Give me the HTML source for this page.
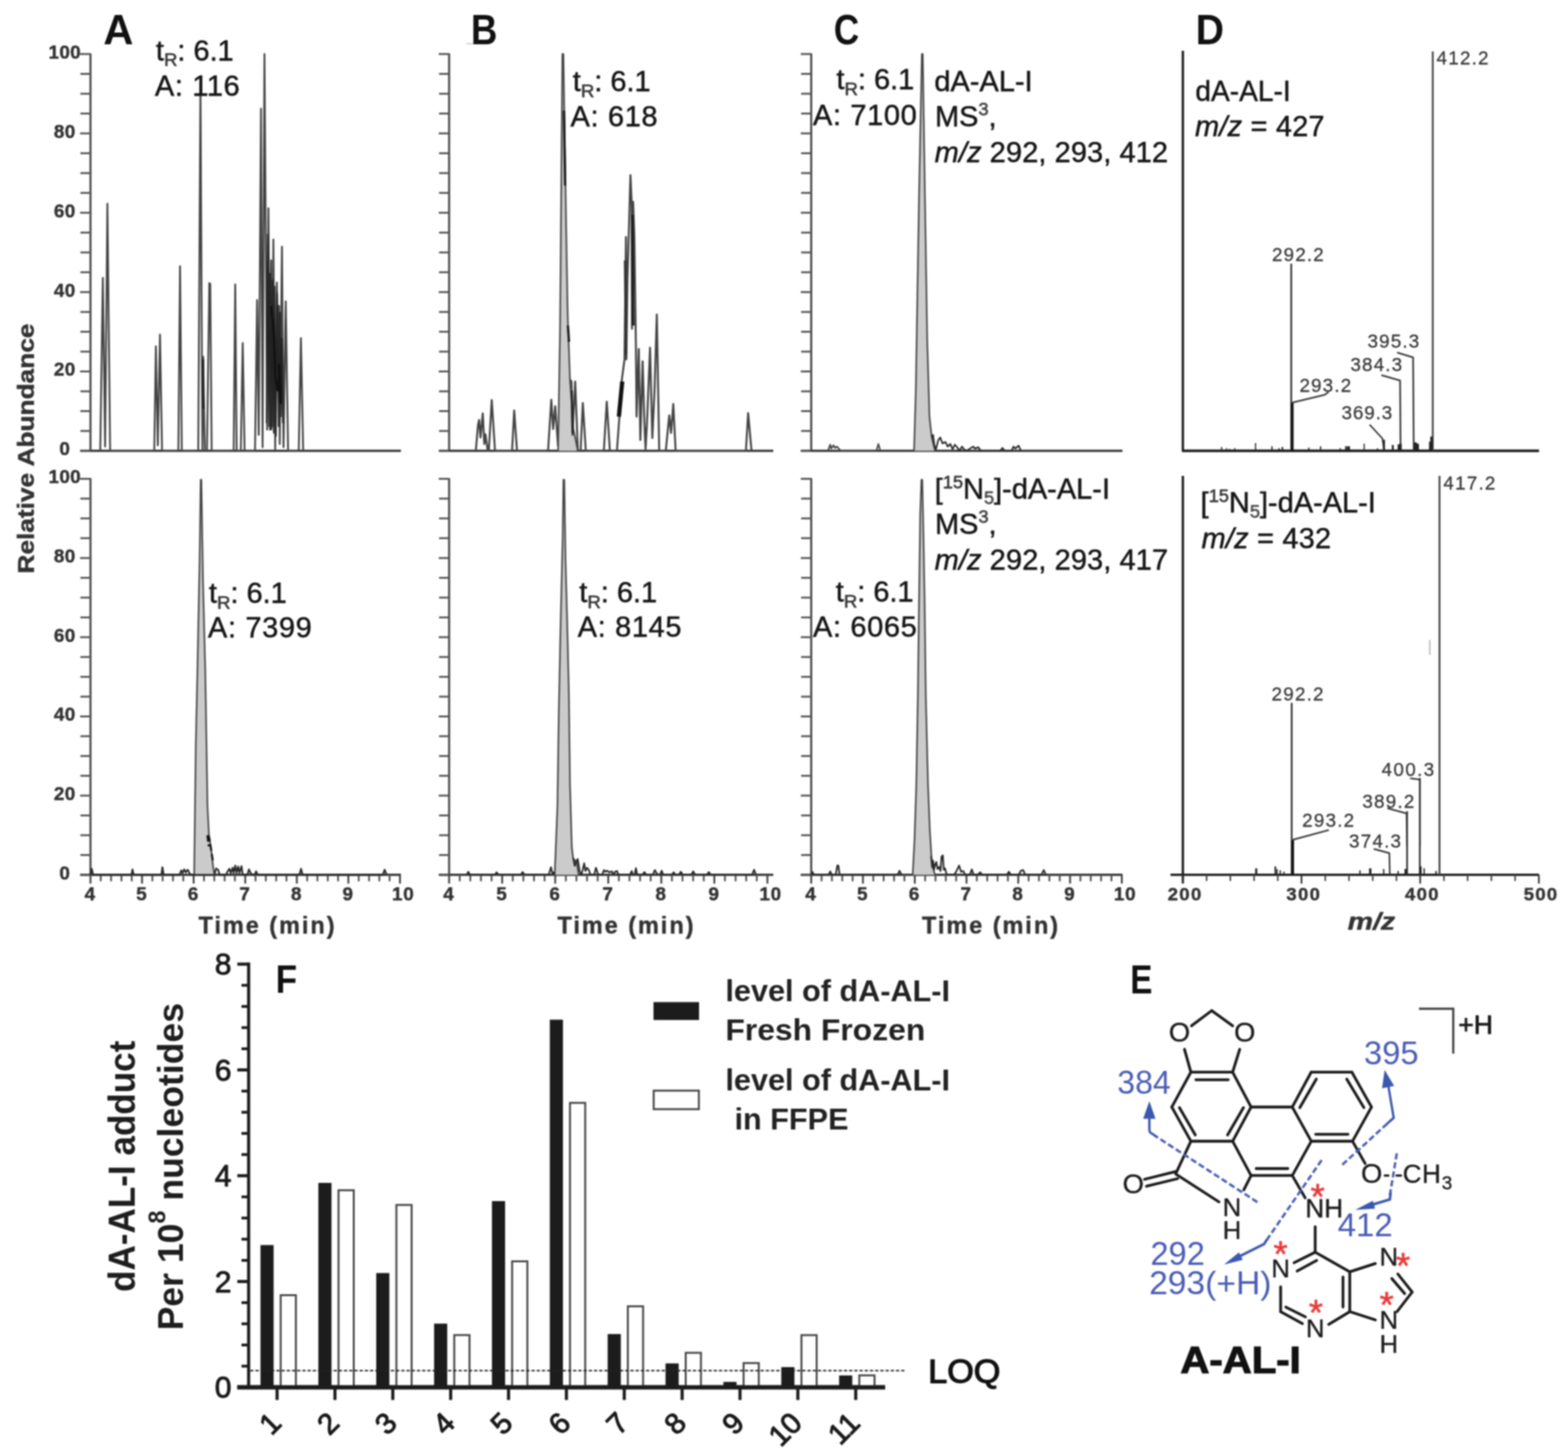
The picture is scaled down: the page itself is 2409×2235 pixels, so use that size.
<!DOCTYPE html>
<html lang="en"><head><meta charset="utf-8"><title>Figure</title>
<style>
html,body{margin:0;padding:0;background:#fff;}
svg{display:block;filter:blur(0.9px);}
text{font-family:"Liberation Sans", sans-serif;}
</style></head>
<body>
<svg width="2409" height="2235" viewBox="0 0 2409 2235">
<rect x="0" y="0" width="2409" height="2235" fill="#ffffff"/>
<line x1="139.0" y1="82.0" x2="139.0" y2="693.5" stroke="#4a4a4a" stroke-width="3.2" />
<line x1="123.0" y1="692.5" x2="616.0" y2="692.5" stroke="#383838" stroke-width="3.5" />
<line x1="123.0" y1="692.5" x2="139.0" y2="692.5" stroke="#555" stroke-width="2.9" />
<line x1="123.5" y1="662.0" x2="139.0" y2="662.0" stroke="#555" stroke-width="2.9" />
<line x1="123.5" y1="631.5" x2="139.0" y2="631.5" stroke="#555" stroke-width="2.9" />
<line x1="123.5" y1="601.1" x2="139.0" y2="601.1" stroke="#555" stroke-width="2.9" />
<line x1="123.0" y1="570.6" x2="139.0" y2="570.6" stroke="#555" stroke-width="2.9" />
<line x1="123.5" y1="540.1" x2="139.0" y2="540.1" stroke="#555" stroke-width="2.9" />
<line x1="123.5" y1="509.6" x2="139.0" y2="509.6" stroke="#555" stroke-width="2.9" />
<line x1="123.5" y1="479.2" x2="139.0" y2="479.2" stroke="#555" stroke-width="2.9" />
<line x1="123.0" y1="448.7" x2="139.0" y2="448.7" stroke="#555" stroke-width="2.9" />
<line x1="123.5" y1="418.2" x2="139.0" y2="418.2" stroke="#555" stroke-width="2.9" />
<line x1="123.5" y1="387.8" x2="139.0" y2="387.8" stroke="#555" stroke-width="2.9" />
<line x1="123.5" y1="357.3" x2="139.0" y2="357.3" stroke="#555" stroke-width="2.9" />
<line x1="123.0" y1="326.8" x2="139.0" y2="326.8" stroke="#555" stroke-width="2.9" />
<line x1="123.5" y1="296.3" x2="139.0" y2="296.3" stroke="#555" stroke-width="2.9" />
<line x1="123.5" y1="265.9" x2="139.0" y2="265.9" stroke="#555" stroke-width="2.9" />
<line x1="123.5" y1="235.4" x2="139.0" y2="235.4" stroke="#555" stroke-width="2.9" />
<line x1="123.0" y1="204.9" x2="139.0" y2="204.9" stroke="#555" stroke-width="2.9" />
<line x1="123.5" y1="174.4" x2="139.0" y2="174.4" stroke="#555" stroke-width="2.9" />
<line x1="123.5" y1="144.0" x2="139.0" y2="144.0" stroke="#555" stroke-width="2.9" />
<line x1="123.5" y1="113.5" x2="139.0" y2="113.5" stroke="#555" stroke-width="2.9" />
<line x1="123.0" y1="83.0" x2="139.0" y2="83.0" stroke="#555" stroke-width="2.9" />
<text x="99.5" y="699.3" font-size="29" font-weight="bold" text-anchor="middle" fill="#333" letter-spacing="0.6" stroke="#333" stroke-width="0.6">0</text>
<text x="99.5" y="577.4" font-size="29" font-weight="bold" text-anchor="middle" fill="#333" letter-spacing="0.6" stroke="#333" stroke-width="0.6">20</text>
<text x="99.5" y="455.5" font-size="29" font-weight="bold" text-anchor="middle" fill="#333" letter-spacing="0.6" stroke="#333" stroke-width="0.6">40</text>
<text x="99.5" y="333.6" font-size="29" font-weight="bold" text-anchor="middle" fill="#333" letter-spacing="0.6" stroke="#333" stroke-width="0.6">60</text>
<text x="99.5" y="211.7" font-size="29" font-weight="bold" text-anchor="middle" fill="#333" letter-spacing="0.6" stroke="#333" stroke-width="0.6">80</text>
<text x="99.5" y="89.8" font-size="29" font-weight="bold" text-anchor="middle" fill="#333" letter-spacing="0.6" stroke="#333" stroke-width="0.6">100</text>
<line x1="139.0" y1="734.5" x2="139.0" y2="1344.8" stroke="#4a4a4a" stroke-width="3.2" />
<line x1="123.0" y1="1343.8" x2="616.0" y2="1343.8" stroke="#383838" stroke-width="3.6" />
<line x1="123.0" y1="1343.8" x2="139.0" y2="1343.8" stroke="#555" stroke-width="2.9" />
<line x1="123.5" y1="1313.4" x2="139.0" y2="1313.4" stroke="#555" stroke-width="2.9" />
<line x1="123.5" y1="1283.0" x2="139.0" y2="1283.0" stroke="#555" stroke-width="2.9" />
<line x1="123.5" y1="1252.6" x2="139.0" y2="1252.6" stroke="#555" stroke-width="2.9" />
<line x1="123.0" y1="1222.1" x2="139.0" y2="1222.1" stroke="#555" stroke-width="2.9" />
<line x1="123.5" y1="1191.7" x2="139.0" y2="1191.7" stroke="#555" stroke-width="2.9" />
<line x1="123.5" y1="1161.3" x2="139.0" y2="1161.3" stroke="#555" stroke-width="2.9" />
<line x1="123.5" y1="1130.9" x2="139.0" y2="1130.9" stroke="#555" stroke-width="2.9" />
<line x1="123.0" y1="1100.5" x2="139.0" y2="1100.5" stroke="#555" stroke-width="2.9" />
<line x1="123.5" y1="1070.1" x2="139.0" y2="1070.1" stroke="#555" stroke-width="2.9" />
<line x1="123.5" y1="1039.7" x2="139.0" y2="1039.7" stroke="#555" stroke-width="2.9" />
<line x1="123.5" y1="1009.2" x2="139.0" y2="1009.2" stroke="#555" stroke-width="2.9" />
<line x1="123.0" y1="978.8" x2="139.0" y2="978.8" stroke="#555" stroke-width="2.9" />
<line x1="123.5" y1="948.4" x2="139.0" y2="948.4" stroke="#555" stroke-width="2.9" />
<line x1="123.5" y1="918.0" x2="139.0" y2="918.0" stroke="#555" stroke-width="2.9" />
<line x1="123.5" y1="887.6" x2="139.0" y2="887.6" stroke="#555" stroke-width="2.9" />
<line x1="123.0" y1="857.2" x2="139.0" y2="857.2" stroke="#555" stroke-width="2.9" />
<line x1="123.5" y1="826.7" x2="139.0" y2="826.7" stroke="#555" stroke-width="2.9" />
<line x1="123.5" y1="796.3" x2="139.0" y2="796.3" stroke="#555" stroke-width="2.9" />
<line x1="123.5" y1="765.9" x2="139.0" y2="765.9" stroke="#555" stroke-width="2.9" />
<line x1="123.0" y1="735.5" x2="139.0" y2="735.5" stroke="#555" stroke-width="2.9" />
<text x="99.5" y="1350.6" font-size="29" font-weight="bold" text-anchor="middle" fill="#333" letter-spacing="0.6" stroke="#333" stroke-width="0.6">0</text>
<text x="99.5" y="1228.9" font-size="29" font-weight="bold" text-anchor="middle" fill="#333" letter-spacing="0.6" stroke="#333" stroke-width="0.6">20</text>
<text x="99.5" y="1107.3" font-size="29" font-weight="bold" text-anchor="middle" fill="#333" letter-spacing="0.6" stroke="#333" stroke-width="0.6">40</text>
<text x="99.5" y="985.6" font-size="29" font-weight="bold" text-anchor="middle" fill="#333" letter-spacing="0.6" stroke="#333" stroke-width="0.6">60</text>
<text x="99.5" y="864.0" font-size="29" font-weight="bold" text-anchor="middle" fill="#333" letter-spacing="0.6" stroke="#333" stroke-width="0.6">80</text>
<text x="99.5" y="742.3" font-size="29" font-weight="bold" text-anchor="middle" fill="#333" letter-spacing="0.6" stroke="#333" stroke-width="0.6">100</text>
<line x1="139.0" y1="1343.8" x2="139.0" y2="1357.3" stroke="#444" stroke-width="2.9" />
<line x1="154.8" y1="1343.8" x2="154.8" y2="1353.8" stroke="#555" stroke-width="2.8" />
<line x1="170.7" y1="1343.8" x2="170.7" y2="1353.8" stroke="#555" stroke-width="2.8" />
<line x1="186.6" y1="1343.8" x2="186.6" y2="1353.8" stroke="#555" stroke-width="2.8" />
<line x1="202.4" y1="1343.8" x2="202.4" y2="1353.8" stroke="#555" stroke-width="2.8" />
<line x1="218.2" y1="1343.8" x2="218.2" y2="1357.3" stroke="#444" stroke-width="2.9" />
<line x1="234.1" y1="1343.8" x2="234.1" y2="1353.8" stroke="#555" stroke-width="2.8" />
<line x1="249.9" y1="1343.8" x2="249.9" y2="1353.8" stroke="#555" stroke-width="2.8" />
<line x1="265.8" y1="1343.8" x2="265.8" y2="1353.8" stroke="#555" stroke-width="2.8" />
<line x1="281.6" y1="1343.8" x2="281.6" y2="1353.8" stroke="#555" stroke-width="2.8" />
<line x1="297.5" y1="1343.8" x2="297.5" y2="1357.3" stroke="#444" stroke-width="2.9" />
<line x1="313.4" y1="1343.8" x2="313.4" y2="1353.8" stroke="#555" stroke-width="2.8" />
<line x1="329.2" y1="1343.8" x2="329.2" y2="1353.8" stroke="#555" stroke-width="2.8" />
<line x1="345.1" y1="1343.8" x2="345.1" y2="1353.8" stroke="#555" stroke-width="2.8" />
<line x1="360.9" y1="1343.8" x2="360.9" y2="1353.8" stroke="#555" stroke-width="2.8" />
<line x1="376.8" y1="1343.8" x2="376.8" y2="1357.3" stroke="#444" stroke-width="2.9" />
<line x1="392.6" y1="1343.8" x2="392.6" y2="1353.8" stroke="#555" stroke-width="2.8" />
<line x1="408.4" y1="1343.8" x2="408.4" y2="1353.8" stroke="#555" stroke-width="2.8" />
<line x1="424.3" y1="1343.8" x2="424.3" y2="1353.8" stroke="#555" stroke-width="2.8" />
<line x1="440.1" y1="1343.8" x2="440.1" y2="1353.8" stroke="#555" stroke-width="2.8" />
<line x1="456.0" y1="1343.8" x2="456.0" y2="1357.3" stroke="#444" stroke-width="2.9" />
<line x1="471.9" y1="1343.8" x2="471.9" y2="1353.8" stroke="#555" stroke-width="2.8" />
<line x1="487.7" y1="1343.8" x2="487.7" y2="1353.8" stroke="#555" stroke-width="2.8" />
<line x1="503.6" y1="1343.8" x2="503.6" y2="1353.8" stroke="#555" stroke-width="2.8" />
<line x1="519.4" y1="1343.8" x2="519.4" y2="1353.8" stroke="#555" stroke-width="2.8" />
<line x1="535.2" y1="1343.8" x2="535.2" y2="1357.3" stroke="#444" stroke-width="2.9" />
<line x1="551.1" y1="1343.8" x2="551.1" y2="1353.8" stroke="#555" stroke-width="2.8" />
<line x1="567.0" y1="1343.8" x2="567.0" y2="1353.8" stroke="#555" stroke-width="2.8" />
<line x1="582.8" y1="1343.8" x2="582.8" y2="1353.8" stroke="#555" stroke-width="2.8" />
<line x1="598.6" y1="1343.8" x2="598.6" y2="1353.8" stroke="#555" stroke-width="2.8" />
<line x1="614.5" y1="1343.8" x2="614.5" y2="1357.3" stroke="#444" stroke-width="2.9" />
<text x="138.5" y="1382.8" font-size="29" font-weight="bold" text-anchor="middle" fill="#333" letter-spacing="1" stroke="#333" stroke-width="0.6">4</text>
<text x="217.8" y="1382.8" font-size="29" font-weight="bold" text-anchor="middle" fill="#333" letter-spacing="1" stroke="#333" stroke-width="0.6">5</text>
<text x="297.0" y="1382.8" font-size="29" font-weight="bold" text-anchor="middle" fill="#333" letter-spacing="1" stroke="#333" stroke-width="0.6">6</text>
<text x="376.2" y="1382.8" font-size="29" font-weight="bold" text-anchor="middle" fill="#333" letter-spacing="1" stroke="#333" stroke-width="0.6">7</text>
<text x="455.5" y="1382.8" font-size="29" font-weight="bold" text-anchor="middle" fill="#333" letter-spacing="1" stroke="#333" stroke-width="0.6">8</text>
<text x="534.8" y="1382.8" font-size="29" font-weight="bold" text-anchor="middle" fill="#333" letter-spacing="1" stroke="#333" stroke-width="0.6">9</text>
<text x="619.5" y="1382.8" font-size="29" font-weight="bold" text-anchor="middle" fill="#333" letter-spacing="1" stroke="#333" stroke-width="0.6">10</text>
<line x1="690.0" y1="82.0" x2="690.0" y2="693.5" stroke="#4a4a4a" stroke-width="3.2" />
<line x1="674.0" y1="692.5" x2="1188.0" y2="692.5" stroke="#383838" stroke-width="3.5" />
<line x1="674.0" y1="692.5" x2="690.0" y2="692.5" stroke="#555" stroke-width="2.9" />
<line x1="674.5" y1="662.0" x2="690.0" y2="662.0" stroke="#555" stroke-width="2.9" />
<line x1="674.5" y1="631.5" x2="690.0" y2="631.5" stroke="#555" stroke-width="2.9" />
<line x1="674.5" y1="601.1" x2="690.0" y2="601.1" stroke="#555" stroke-width="2.9" />
<line x1="674.0" y1="570.6" x2="690.0" y2="570.6" stroke="#555" stroke-width="2.9" />
<line x1="674.5" y1="540.1" x2="690.0" y2="540.1" stroke="#555" stroke-width="2.9" />
<line x1="674.5" y1="509.6" x2="690.0" y2="509.6" stroke="#555" stroke-width="2.9" />
<line x1="674.5" y1="479.2" x2="690.0" y2="479.2" stroke="#555" stroke-width="2.9" />
<line x1="674.0" y1="448.7" x2="690.0" y2="448.7" stroke="#555" stroke-width="2.9" />
<line x1="674.5" y1="418.2" x2="690.0" y2="418.2" stroke="#555" stroke-width="2.9" />
<line x1="674.5" y1="387.8" x2="690.0" y2="387.8" stroke="#555" stroke-width="2.9" />
<line x1="674.5" y1="357.3" x2="690.0" y2="357.3" stroke="#555" stroke-width="2.9" />
<line x1="674.0" y1="326.8" x2="690.0" y2="326.8" stroke="#555" stroke-width="2.9" />
<line x1="674.5" y1="296.3" x2="690.0" y2="296.3" stroke="#555" stroke-width="2.9" />
<line x1="674.5" y1="265.9" x2="690.0" y2="265.9" stroke="#555" stroke-width="2.9" />
<line x1="674.5" y1="235.4" x2="690.0" y2="235.4" stroke="#555" stroke-width="2.9" />
<line x1="674.0" y1="204.9" x2="690.0" y2="204.9" stroke="#555" stroke-width="2.9" />
<line x1="674.5" y1="174.4" x2="690.0" y2="174.4" stroke="#555" stroke-width="2.9" />
<line x1="674.5" y1="144.0" x2="690.0" y2="144.0" stroke="#555" stroke-width="2.9" />
<line x1="674.5" y1="113.5" x2="690.0" y2="113.5" stroke="#555" stroke-width="2.9" />
<line x1="674.0" y1="83.0" x2="690.0" y2="83.0" stroke="#555" stroke-width="2.9" />
<line x1="690.0" y1="734.5" x2="690.0" y2="1344.8" stroke="#4a4a4a" stroke-width="3.2" />
<line x1="674.0" y1="1343.8" x2="1188.0" y2="1343.8" stroke="#383838" stroke-width="3.6" />
<line x1="674.0" y1="1343.8" x2="690.0" y2="1343.8" stroke="#555" stroke-width="2.9" />
<line x1="674.5" y1="1313.4" x2="690.0" y2="1313.4" stroke="#555" stroke-width="2.9" />
<line x1="674.5" y1="1283.0" x2="690.0" y2="1283.0" stroke="#555" stroke-width="2.9" />
<line x1="674.5" y1="1252.6" x2="690.0" y2="1252.6" stroke="#555" stroke-width="2.9" />
<line x1="674.0" y1="1222.1" x2="690.0" y2="1222.1" stroke="#555" stroke-width="2.9" />
<line x1="674.5" y1="1191.7" x2="690.0" y2="1191.7" stroke="#555" stroke-width="2.9" />
<line x1="674.5" y1="1161.3" x2="690.0" y2="1161.3" stroke="#555" stroke-width="2.9" />
<line x1="674.5" y1="1130.9" x2="690.0" y2="1130.9" stroke="#555" stroke-width="2.9" />
<line x1="674.0" y1="1100.5" x2="690.0" y2="1100.5" stroke="#555" stroke-width="2.9" />
<line x1="674.5" y1="1070.1" x2="690.0" y2="1070.1" stroke="#555" stroke-width="2.9" />
<line x1="674.5" y1="1039.7" x2="690.0" y2="1039.7" stroke="#555" stroke-width="2.9" />
<line x1="674.5" y1="1009.2" x2="690.0" y2="1009.2" stroke="#555" stroke-width="2.9" />
<line x1="674.0" y1="978.8" x2="690.0" y2="978.8" stroke="#555" stroke-width="2.9" />
<line x1="674.5" y1="948.4" x2="690.0" y2="948.4" stroke="#555" stroke-width="2.9" />
<line x1="674.5" y1="918.0" x2="690.0" y2="918.0" stroke="#555" stroke-width="2.9" />
<line x1="674.5" y1="887.6" x2="690.0" y2="887.6" stroke="#555" stroke-width="2.9" />
<line x1="674.0" y1="857.2" x2="690.0" y2="857.2" stroke="#555" stroke-width="2.9" />
<line x1="674.5" y1="826.7" x2="690.0" y2="826.7" stroke="#555" stroke-width="2.9" />
<line x1="674.5" y1="796.3" x2="690.0" y2="796.3" stroke="#555" stroke-width="2.9" />
<line x1="674.5" y1="765.9" x2="690.0" y2="765.9" stroke="#555" stroke-width="2.9" />
<line x1="674.0" y1="735.5" x2="690.0" y2="735.5" stroke="#555" stroke-width="2.9" />
<line x1="690.0" y1="1343.8" x2="690.0" y2="1357.3" stroke="#444" stroke-width="2.9" />
<line x1="706.3" y1="1343.8" x2="706.3" y2="1353.8" stroke="#555" stroke-width="2.8" />
<line x1="722.6" y1="1343.8" x2="722.6" y2="1353.8" stroke="#555" stroke-width="2.8" />
<line x1="738.9" y1="1343.8" x2="738.9" y2="1353.8" stroke="#555" stroke-width="2.8" />
<line x1="755.2" y1="1343.8" x2="755.2" y2="1353.8" stroke="#555" stroke-width="2.8" />
<line x1="771.5" y1="1343.8" x2="771.5" y2="1357.3" stroke="#444" stroke-width="2.9" />
<line x1="787.8" y1="1343.8" x2="787.8" y2="1353.8" stroke="#555" stroke-width="2.8" />
<line x1="804.1" y1="1343.8" x2="804.1" y2="1353.8" stroke="#555" stroke-width="2.8" />
<line x1="820.4" y1="1343.8" x2="820.4" y2="1353.8" stroke="#555" stroke-width="2.8" />
<line x1="836.7" y1="1343.8" x2="836.7" y2="1353.8" stroke="#555" stroke-width="2.8" />
<line x1="853.0" y1="1343.8" x2="853.0" y2="1357.3" stroke="#444" stroke-width="2.9" />
<line x1="869.3" y1="1343.8" x2="869.3" y2="1353.8" stroke="#555" stroke-width="2.8" />
<line x1="885.6" y1="1343.8" x2="885.6" y2="1353.8" stroke="#555" stroke-width="2.8" />
<line x1="901.9" y1="1343.8" x2="901.9" y2="1353.8" stroke="#555" stroke-width="2.8" />
<line x1="918.2" y1="1343.8" x2="918.2" y2="1353.8" stroke="#555" stroke-width="2.8" />
<line x1="934.5" y1="1343.8" x2="934.5" y2="1357.3" stroke="#444" stroke-width="2.9" />
<line x1="950.8" y1="1343.8" x2="950.8" y2="1353.8" stroke="#555" stroke-width="2.8" />
<line x1="967.1" y1="1343.8" x2="967.1" y2="1353.8" stroke="#555" stroke-width="2.8" />
<line x1="983.4" y1="1343.8" x2="983.4" y2="1353.8" stroke="#555" stroke-width="2.8" />
<line x1="999.7" y1="1343.8" x2="999.7" y2="1353.8" stroke="#555" stroke-width="2.8" />
<line x1="1016.0" y1="1343.8" x2="1016.0" y2="1357.3" stroke="#444" stroke-width="2.9" />
<line x1="1032.3" y1="1343.8" x2="1032.3" y2="1353.8" stroke="#555" stroke-width="2.8" />
<line x1="1048.6" y1="1343.8" x2="1048.6" y2="1353.8" stroke="#555" stroke-width="2.8" />
<line x1="1064.9" y1="1343.8" x2="1064.9" y2="1353.8" stroke="#555" stroke-width="2.8" />
<line x1="1081.2" y1="1343.8" x2="1081.2" y2="1353.8" stroke="#555" stroke-width="2.8" />
<line x1="1097.5" y1="1343.8" x2="1097.5" y2="1357.3" stroke="#444" stroke-width="2.9" />
<line x1="1113.8" y1="1343.8" x2="1113.8" y2="1353.8" stroke="#555" stroke-width="2.8" />
<line x1="1130.1" y1="1343.8" x2="1130.1" y2="1353.8" stroke="#555" stroke-width="2.8" />
<line x1="1146.4" y1="1343.8" x2="1146.4" y2="1353.8" stroke="#555" stroke-width="2.8" />
<line x1="1162.7" y1="1343.8" x2="1162.7" y2="1353.8" stroke="#555" stroke-width="2.8" />
<line x1="1179.0" y1="1343.8" x2="1179.0" y2="1357.3" stroke="#444" stroke-width="2.9" />
<text x="689.5" y="1382.8" font-size="29" font-weight="bold" text-anchor="middle" fill="#333" letter-spacing="1" stroke="#333" stroke-width="0.6">4</text>
<text x="771.0" y="1382.8" font-size="29" font-weight="bold" text-anchor="middle" fill="#333" letter-spacing="1" stroke="#333" stroke-width="0.6">5</text>
<text x="852.5" y="1382.8" font-size="29" font-weight="bold" text-anchor="middle" fill="#333" letter-spacing="1" stroke="#333" stroke-width="0.6">6</text>
<text x="934.0" y="1382.8" font-size="29" font-weight="bold" text-anchor="middle" fill="#333" letter-spacing="1" stroke="#333" stroke-width="0.6">7</text>
<text x="1015.5" y="1382.8" font-size="29" font-weight="bold" text-anchor="middle" fill="#333" letter-spacing="1" stroke="#333" stroke-width="0.6">8</text>
<text x="1097.0" y="1382.8" font-size="29" font-weight="bold" text-anchor="middle" fill="#333" letter-spacing="1" stroke="#333" stroke-width="0.6">9</text>
<text x="1184.0" y="1382.8" font-size="29" font-weight="bold" text-anchor="middle" fill="#333" letter-spacing="1" stroke="#333" stroke-width="0.6">10</text>
<line x1="1246.3" y1="82.0" x2="1246.3" y2="693.5" stroke="#4a4a4a" stroke-width="3.2" />
<line x1="1230.3" y1="692.5" x2="1724.5" y2="692.5" stroke="#383838" stroke-width="3.5" />
<line x1="1230.3" y1="692.5" x2="1246.3" y2="692.5" stroke="#555" stroke-width="2.9" />
<line x1="1230.8" y1="662.0" x2="1246.3" y2="662.0" stroke="#555" stroke-width="2.9" />
<line x1="1230.8" y1="631.5" x2="1246.3" y2="631.5" stroke="#555" stroke-width="2.9" />
<line x1="1230.8" y1="601.1" x2="1246.3" y2="601.1" stroke="#555" stroke-width="2.9" />
<line x1="1230.3" y1="570.6" x2="1246.3" y2="570.6" stroke="#555" stroke-width="2.9" />
<line x1="1230.8" y1="540.1" x2="1246.3" y2="540.1" stroke="#555" stroke-width="2.9" />
<line x1="1230.8" y1="509.6" x2="1246.3" y2="509.6" stroke="#555" stroke-width="2.9" />
<line x1="1230.8" y1="479.2" x2="1246.3" y2="479.2" stroke="#555" stroke-width="2.9" />
<line x1="1230.3" y1="448.7" x2="1246.3" y2="448.7" stroke="#555" stroke-width="2.9" />
<line x1="1230.8" y1="418.2" x2="1246.3" y2="418.2" stroke="#555" stroke-width="2.9" />
<line x1="1230.8" y1="387.8" x2="1246.3" y2="387.8" stroke="#555" stroke-width="2.9" />
<line x1="1230.8" y1="357.3" x2="1246.3" y2="357.3" stroke="#555" stroke-width="2.9" />
<line x1="1230.3" y1="326.8" x2="1246.3" y2="326.8" stroke="#555" stroke-width="2.9" />
<line x1="1230.8" y1="296.3" x2="1246.3" y2="296.3" stroke="#555" stroke-width="2.9" />
<line x1="1230.8" y1="265.9" x2="1246.3" y2="265.9" stroke="#555" stroke-width="2.9" />
<line x1="1230.8" y1="235.4" x2="1246.3" y2="235.4" stroke="#555" stroke-width="2.9" />
<line x1="1230.3" y1="204.9" x2="1246.3" y2="204.9" stroke="#555" stroke-width="2.9" />
<line x1="1230.8" y1="174.4" x2="1246.3" y2="174.4" stroke="#555" stroke-width="2.9" />
<line x1="1230.8" y1="144.0" x2="1246.3" y2="144.0" stroke="#555" stroke-width="2.9" />
<line x1="1230.8" y1="113.5" x2="1246.3" y2="113.5" stroke="#555" stroke-width="2.9" />
<line x1="1230.3" y1="83.0" x2="1246.3" y2="83.0" stroke="#555" stroke-width="2.9" />
<line x1="1246.3" y1="734.5" x2="1246.3" y2="1344.8" stroke="#4a4a4a" stroke-width="3.2" />
<line x1="1230.3" y1="1343.8" x2="1724.5" y2="1343.8" stroke="#383838" stroke-width="3.6" />
<line x1="1230.3" y1="1343.8" x2="1246.3" y2="1343.8" stroke="#555" stroke-width="2.9" />
<line x1="1230.8" y1="1313.4" x2="1246.3" y2="1313.4" stroke="#555" stroke-width="2.9" />
<line x1="1230.8" y1="1283.0" x2="1246.3" y2="1283.0" stroke="#555" stroke-width="2.9" />
<line x1="1230.8" y1="1252.6" x2="1246.3" y2="1252.6" stroke="#555" stroke-width="2.9" />
<line x1="1230.3" y1="1222.1" x2="1246.3" y2="1222.1" stroke="#555" stroke-width="2.9" />
<line x1="1230.8" y1="1191.7" x2="1246.3" y2="1191.7" stroke="#555" stroke-width="2.9" />
<line x1="1230.8" y1="1161.3" x2="1246.3" y2="1161.3" stroke="#555" stroke-width="2.9" />
<line x1="1230.8" y1="1130.9" x2="1246.3" y2="1130.9" stroke="#555" stroke-width="2.9" />
<line x1="1230.3" y1="1100.5" x2="1246.3" y2="1100.5" stroke="#555" stroke-width="2.9" />
<line x1="1230.8" y1="1070.1" x2="1246.3" y2="1070.1" stroke="#555" stroke-width="2.9" />
<line x1="1230.8" y1="1039.7" x2="1246.3" y2="1039.7" stroke="#555" stroke-width="2.9" />
<line x1="1230.8" y1="1009.2" x2="1246.3" y2="1009.2" stroke="#555" stroke-width="2.9" />
<line x1="1230.3" y1="978.8" x2="1246.3" y2="978.8" stroke="#555" stroke-width="2.9" />
<line x1="1230.8" y1="948.4" x2="1246.3" y2="948.4" stroke="#555" stroke-width="2.9" />
<line x1="1230.8" y1="918.0" x2="1246.3" y2="918.0" stroke="#555" stroke-width="2.9" />
<line x1="1230.8" y1="887.6" x2="1246.3" y2="887.6" stroke="#555" stroke-width="2.9" />
<line x1="1230.3" y1="857.2" x2="1246.3" y2="857.2" stroke="#555" stroke-width="2.9" />
<line x1="1230.8" y1="826.7" x2="1246.3" y2="826.7" stroke="#555" stroke-width="2.9" />
<line x1="1230.8" y1="796.3" x2="1246.3" y2="796.3" stroke="#555" stroke-width="2.9" />
<line x1="1230.8" y1="765.9" x2="1246.3" y2="765.9" stroke="#555" stroke-width="2.9" />
<line x1="1230.3" y1="735.5" x2="1246.3" y2="735.5" stroke="#555" stroke-width="2.9" />
<line x1="1246.3" y1="1343.8" x2="1246.3" y2="1357.3" stroke="#444" stroke-width="2.9" />
<line x1="1262.2" y1="1343.8" x2="1262.2" y2="1353.8" stroke="#555" stroke-width="2.8" />
<line x1="1278.1" y1="1343.8" x2="1278.1" y2="1353.8" stroke="#555" stroke-width="2.8" />
<line x1="1294.0" y1="1343.8" x2="1294.0" y2="1353.8" stroke="#555" stroke-width="2.8" />
<line x1="1309.9" y1="1343.8" x2="1309.9" y2="1353.8" stroke="#555" stroke-width="2.8" />
<line x1="1325.8" y1="1343.8" x2="1325.8" y2="1357.3" stroke="#444" stroke-width="2.9" />
<line x1="1341.7" y1="1343.8" x2="1341.7" y2="1353.8" stroke="#555" stroke-width="2.8" />
<line x1="1357.6" y1="1343.8" x2="1357.6" y2="1353.8" stroke="#555" stroke-width="2.8" />
<line x1="1373.6" y1="1343.8" x2="1373.6" y2="1353.8" stroke="#555" stroke-width="2.8" />
<line x1="1389.5" y1="1343.8" x2="1389.5" y2="1353.8" stroke="#555" stroke-width="2.8" />
<line x1="1405.4" y1="1343.8" x2="1405.4" y2="1357.3" stroke="#444" stroke-width="2.9" />
<line x1="1421.3" y1="1343.8" x2="1421.3" y2="1353.8" stroke="#555" stroke-width="2.8" />
<line x1="1437.2" y1="1343.8" x2="1437.2" y2="1353.8" stroke="#555" stroke-width="2.8" />
<line x1="1453.1" y1="1343.8" x2="1453.1" y2="1353.8" stroke="#555" stroke-width="2.8" />
<line x1="1469.0" y1="1343.8" x2="1469.0" y2="1353.8" stroke="#555" stroke-width="2.8" />
<line x1="1484.9" y1="1343.8" x2="1484.9" y2="1357.3" stroke="#444" stroke-width="2.9" />
<line x1="1500.8" y1="1343.8" x2="1500.8" y2="1353.8" stroke="#555" stroke-width="2.8" />
<line x1="1516.7" y1="1343.8" x2="1516.7" y2="1353.8" stroke="#555" stroke-width="2.8" />
<line x1="1532.6" y1="1343.8" x2="1532.6" y2="1353.8" stroke="#555" stroke-width="2.8" />
<line x1="1548.5" y1="1343.8" x2="1548.5" y2="1353.8" stroke="#555" stroke-width="2.8" />
<line x1="1564.4" y1="1343.8" x2="1564.4" y2="1357.3" stroke="#444" stroke-width="2.9" />
<line x1="1580.3" y1="1343.8" x2="1580.3" y2="1353.8" stroke="#555" stroke-width="2.8" />
<line x1="1596.2" y1="1343.8" x2="1596.2" y2="1353.8" stroke="#555" stroke-width="2.8" />
<line x1="1612.2" y1="1343.8" x2="1612.2" y2="1353.8" stroke="#555" stroke-width="2.8" />
<line x1="1628.1" y1="1343.8" x2="1628.1" y2="1353.8" stroke="#555" stroke-width="2.8" />
<line x1="1644.0" y1="1343.8" x2="1644.0" y2="1357.3" stroke="#444" stroke-width="2.9" />
<line x1="1659.9" y1="1343.8" x2="1659.9" y2="1353.8" stroke="#555" stroke-width="2.8" />
<line x1="1675.8" y1="1343.8" x2="1675.8" y2="1353.8" stroke="#555" stroke-width="2.8" />
<line x1="1691.7" y1="1343.8" x2="1691.7" y2="1353.8" stroke="#555" stroke-width="2.8" />
<line x1="1707.6" y1="1343.8" x2="1707.6" y2="1353.8" stroke="#555" stroke-width="2.8" />
<line x1="1723.5" y1="1343.8" x2="1723.5" y2="1357.3" stroke="#444" stroke-width="2.9" />
<text x="1245.8" y="1382.8" font-size="29" font-weight="bold" text-anchor="middle" fill="#333" letter-spacing="1" stroke="#333" stroke-width="0.6">4</text>
<text x="1325.3" y="1382.8" font-size="29" font-weight="bold" text-anchor="middle" fill="#333" letter-spacing="1" stroke="#333" stroke-width="0.6">5</text>
<text x="1404.9" y="1382.8" font-size="29" font-weight="bold" text-anchor="middle" fill="#333" letter-spacing="1" stroke="#333" stroke-width="0.6">6</text>
<text x="1484.4" y="1382.8" font-size="29" font-weight="bold" text-anchor="middle" fill="#333" letter-spacing="1" stroke="#333" stroke-width="0.6">7</text>
<text x="1563.9" y="1382.8" font-size="29" font-weight="bold" text-anchor="middle" fill="#333" letter-spacing="1" stroke="#333" stroke-width="0.6">8</text>
<text x="1643.5" y="1382.8" font-size="29" font-weight="bold" text-anchor="middle" fill="#333" letter-spacing="1" stroke="#333" stroke-width="0.6">9</text>
<text x="1728.5" y="1382.8" font-size="29" font-weight="bold" text-anchor="middle" fill="#333" letter-spacing="1" stroke="#333" stroke-width="0.6">10</text>
<text x="409.5" y="1434.3" font-size="36" font-weight="bold" text-anchor="middle" fill="#333" textLength="209.0" lengthAdjust="spacing" stroke="#333" stroke-width="0.6">Time (min)</text>
<text x="961.0" y="1434.3" font-size="36" font-weight="bold" text-anchor="middle" fill="#333" textLength="209.0" lengthAdjust="spacing" stroke="#333" stroke-width="0.6">Time (min)</text>
<text x="1521.0" y="1434.3" font-size="36" font-weight="bold" text-anchor="middle" fill="#333" textLength="209.0" lengthAdjust="spacing" stroke="#333" stroke-width="0.6">Time (min)</text>
<text x="51.5" y="689.0" font-size="34.5" font-weight="bold" text-anchor="middle" fill="#333" textLength="384.0" lengthAdjust="spacingAndGlyphs" transform="rotate(-90 51.5 689.0)" stroke="#333" stroke-width="0.7">Relative Abundance</text>
<text x="158.8" y="68.0" font-size="64" font-weight="bold" fill="#111">A</text>
<text x="723.5" y="67.5" font-size="64" font-weight="bold" fill="#111" textLength="40.6" lengthAdjust="spacingAndGlyphs">B</text>
<text x="1281.0" y="68.0" font-size="64" font-weight="bold" fill="#111" textLength="39.0" lengthAdjust="spacingAndGlyphs">C</text>
<text x="1837.0" y="67.5" font-size="64" font-weight="bold" fill="#111" textLength="43.5" lengthAdjust="spacingAndGlyphs">D</text>
<text x="1736.5" y="1526.0" font-size="63" font-weight="bold" fill="#111" textLength="34.0" lengthAdjust="spacingAndGlyphs">E</text>
<text x="423.5" y="1524.7" font-size="62" font-weight="bold" fill="#111" textLength="33.0" lengthAdjust="spacingAndGlyphs">F</text>
<line x1="716.5" y1="67.0" x2="727.0" y2="67.0" stroke="#c4c4c4" stroke-width="1.6" />
<path d="M154.0,692.5 L158.0,427.0 L161.5,686.0 L165.0,313.0 L169.2,692.5 L237.0,692.5 L239.5,532.0 L242.5,684.0 L245.8,514.0 L249.0,692.5 L274.0,692.5 L276.6,409.0 L279.3,692.5 L304.6,692.5 L308.0,128.0 L310.2,560.0 L311.0,692.5 L312.2,548.0 L313.3,620.0 L314.8,692.5 L318.0,692.5 L321.6,435.0 L323.0,436.0 L325.2,692.5 L359.0,692.5 L361.4,437.0 L363.6,692.5 L370.0,692.5 L372.9,527.0 L375.8,692.5 L391.8,692.5 L395.0,461.0 L397.5,668.0 L401.0,167.0 L403.4,687.0 L406.3,83.0 L410.4,660.0 L412.4,320.0 L414.8,660.0 L416.5,400.0 L418.0,655.0 L420.0,368.0 L422.8,690.0 L425.3,434.0 L427.5,560.0 L428.8,470.0 L429.8,682.0 L433.2,379.0 L435.6,687.0 L439.0,463.0 L442.6,692.5 L459.0,692.5 L462.3,519.5 L465.8,692.5" fill="none" stroke="#444" stroke-width="2.8" stroke-linejoin="round" />
<path d="M409.5,650.0 L411.5,360.0 L413.5,655.0 L415.0,420.0 L417.0,660.0 L418.5,430.0 L420.5,665.0 L422.0,440.0 L424.0,670.0 L426.0,450.0 L428.0,655.0 L430.0,480.0 L431.5,640.0 L433.0,520.0 L434.5,650.0" fill="none" stroke="#222" stroke-width="2.2" stroke-linejoin="round" />
<path d="M417.0,470.0 L421.0,520.0 L423.0,580.0 L427.0,600.0 L429.0,560.0 L431.0,620.0" fill="none" stroke="#111" stroke-width="3.5" stroke-linejoin="round" />
<line x1="312.0" y1="552.0" x2="312.6" y2="628.0" stroke="#222" stroke-width="3.2" />
<path d="M731.0,692.5 L734.5,652.0 L736.1,645.0 L738.2,672.0 L741.7,635.0 L744.0,682.0 L745.8,667.0 L749.3,692.5 L751.0,692.5 L755.5,614.5 L760.5,692.5 L786.7,692.5 L790.0,630.5 L794.3,692.5 L842.0,692.5 L847.0,614.0 L849.8,659.0 L853.0,624.0 L857.4,686.0" fill="none" stroke="#444" stroke-width="3.0" stroke-linejoin="round" />
<path d="M857.4,692.5 L860.5,500.0 L864.0,83.0 L865.6,83.0 L869.8,347.0 L872.2,485.0 L875.7,583.0 L880.9,659.0 L887.8,692.5" fill="#cbcbcb" stroke="#444" stroke-width="2.4" stroke-linejoin="round" />
<line x1="866.5" y1="170.0" x2="868.3" y2="285.0" stroke="#1a1a1a" stroke-width="3.6" />
<line x1="872.5" y1="500.0" x2="874.2" y2="525.0" stroke="#1a1a1a" stroke-width="3.6" />
<path d="M875.5,583.0 L878.0,586.0 L879.5,668.0 L883.7,586.0 L887.8,692.5 L892.0,692.5 L895.4,619.0 L900.0,692.5 L927.7,692.5 L932.2,617.0 L937.0,692.5 L947.8,692.5 L951.5,642.0 L955.4,583.0 L959.5,552.0 L961.7,364.0 L962.3,552.0 L964.0,430.0 L968.6,269.0 L970.5,312.0 L971.0,505.0 L972.7,310.0 L974.5,360.0 L977.0,534.0 L978.0,640.0 L981.4,536.0 L983.8,676.0 L987.3,555.0 L990.0,650.0 L991.8,690.0 L994.0,650.0 L998.7,534.0 L1002.2,673.0 L1005.6,600.0 L1009.1,483.0 L1012.8,692.5 L1022.9,692.5 L1028.2,638.0 L1031.0,665.0 L1034.4,620.5 L1038.0,692.5 L1146.0,692.5 L1149.4,634.5 L1154.6,692.5" fill="none" stroke="#444" stroke-width="3.0" stroke-linejoin="round" />
<line x1="950.8" y1="640.0" x2="956.0" y2="586.0" stroke="#111" stroke-width="6.5" />
<line x1="878.6" y1="600.0" x2="879.6" y2="665.0" stroke="#222" stroke-width="3" />
<line x1="971.5" y1="330.0" x2="972.5" y2="500.0" stroke="#222" stroke-width="4.5" />
<line x1="960.5" y1="400.0" x2="961.8" y2="545.0" stroke="#333" stroke-width="4" />
<path d="M1272.0,692.5 L1275.5,683.0 L1277.0,689.0 L1280.5,684.0 L1283.0,688.0 L1286.0,686.0 L1291.5,692.5 L1346.5,692.5 L1349.5,682.0 L1352.5,692.5" fill="none" stroke="#444" stroke-width="2.4" stroke-linejoin="round" />
<path d="M1404.3,692.5 L1407.0,600.0 L1412.0,300.0 L1416.3,83.0 L1417.7,83.0 L1421.0,300.0 L1424.5,520.0 L1428.0,640.0 L1431.5,672.0 L1436.5,692.5" fill="#cbcbcb" stroke="#444" stroke-width="2.4" stroke-linejoin="round" />
<path d="M1431.5,672.0 L1433.5,668.0 L1435.5,684.0 L1438.0,690.0 L1441.5,676.0 L1444.5,672.0 L1448.0,681.0 L1452.5,679.0 L1456.0,686.0 L1460.0,682.0 L1463.5,690.0 L1467.0,683.0 L1470.5,687.0 L1474.0,692.5 L1478.0,686.0 L1481.0,690.0 L1485.0,692.5 L1495.0,686.0 L1498.0,689.0 L1503.0,687.0 L1507.0,692.5 L1537.0,692.5 L1540.0,688.0 L1544.0,692.5 L1554.0,692.5 L1557.0,686.0 L1560.0,689.0 L1565.0,684.5 L1568.5,692.5" fill="none" stroke="#2a2a2a" stroke-width="2.5" stroke-linejoin="round" />
<path d="M298.3,1343.8 L300.8,1145.0 L303.3,1031.0 L306.7,858.0 L308.3,737.0 L309.4,737.0 L311.9,893.0 L315.4,1031.0 L318.8,1239.0 L321.0,1282.0 L324.5,1305.0 L327.5,1332.0 L329.5,1343.8" fill="#cbcbcb" stroke="#444" stroke-width="2.4" stroke-linejoin="round" />
<line x1="318.8" y1="1284.0" x2="321.0" y2="1300.0" stroke="#111" stroke-width="3.4" stroke-dasharray="9 4"/>
<path d="M318.6,1283.0 L321.5,1287.0 L327.0,1322.0" fill="none" stroke="#111" stroke-width="3" stroke-linejoin="round" stroke-dasharray="10 5"/>
<path d="M139.0,1343.8 L141.0,1334.5 L143.0,1343.8 L202.0,1343.8 L203.5,1335.5 L205.5,1343.8 L248.0,1343.8 L249.5,1332.0 L251.5,1343.8 L276.0,1343.8 L278.5,1337.0 L280.5,1341.0 L283.0,1335.5 L285.5,1340.0 L288.5,1336.0 L291.0,1341.0 L293.0,1343.8 L329.5,1343.8 L332.0,1334.0 L335.0,1336.0 L337.5,1343.8 L340.0,1343.8 L347.0,1343.8 L350.0,1338.0 L352.5,1334.5 L354.5,1341.0 L357.5,1333.0 L359.0,1341.0 L361.5,1329.5 L363.5,1341.0 L366.0,1331.0 L368.0,1341.0 L371.0,1330.5 L373.0,1343.8 L380.0,1343.8 L382.5,1335.5 L385.0,1341.0 L388.0,1343.8 L391.0,1343.8 L393.5,1338.5 L396.0,1343.8 L460.0,1343.8 L462.5,1334.5 L465.0,1343.8 L588.0,1343.8 L591.0,1336.0 L594.0,1343.8" fill="none" stroke="#2a2a2a" stroke-width="2.7" stroke-linejoin="round" />
<path d="M852.2,1343.8 L856.4,1239.0 L858.4,1100.0 L861.2,962.0 L864.5,824.0 L865.6,737.0 L867.0,737.0 L868.8,858.0 L871.6,962.0 L874.0,1066.0 L875.7,1204.0 L878.5,1301.0 L880.5,1318.0 L886.0,1325.0 L889.0,1343.8" fill="#cbcbcb" stroke="#444" stroke-width="2.4" stroke-linejoin="round" />
<path d="M717.0,1343.8 L719.5,1339.0 L722.0,1343.8 L760.0,1343.8 L763.0,1340.0 L766.0,1343.8 L800.0,1343.8 L803.0,1339.5 L806.0,1343.8 L843.0,1343.8 L846.5,1332.0 L848.5,1341.0 L850.5,1340.0 L851.8,1343.8 M880.5,1318.0 L883.0,1330.0 L885.5,1323.0 L887.5,1319.5 L889.0,1328.0 L890.5,1338.0 L893.0,1343.8 L895.0,1337.0 L897.5,1326.0 L899.5,1338.0 L902.0,1333.0 L905.0,1337.0 L907.0,1343.8 L913.0,1343.8 L915.5,1333.0 L917.0,1337.0 L919.0,1343.8 L925.0,1343.8 L928.0,1336.5 L930.0,1339.0 L933.0,1337.5 L936.0,1340.0 L940.0,1338.5 L943.0,1343.8 L945.0,1339.0 L948.0,1338.0 L950.0,1343.8 L968.0,1343.8 L970.5,1338.0 L972.5,1343.8 L975.0,1343.8 L977.0,1333.5 L979.0,1343.8 L987.0,1343.8 L990.0,1339.5 L993.0,1343.8 L1003.0,1343.8 L1006.0,1336.5 L1008.0,1340.0 L1011.0,1343.8 L1014.0,1343.8 L1016.5,1337.5 L1019.0,1343.8 L1032.0,1343.8 L1035.0,1340.0 L1038.0,1343.8 L1043.0,1343.8 L1046.0,1339.0 L1049.0,1343.8 L1062.0,1343.8 L1065.0,1338.5 L1068.0,1343.8 L1086.0,1343.8 L1089.0,1339.5 L1092.0,1343.8 L1155.5,1343.8 L1158.5,1336.0 L1161.5,1343.8" fill="none" stroke="#2a2a2a" stroke-width="2.6" stroke-linejoin="round" />
<path d="M1402.2,1343.8 L1405.0,1291.0 L1407.8,1204.0 L1410.2,1066.0 L1411.9,928.0 L1413.8,789.0 L1415.6,737.0 L1417.0,737.0 L1418.8,824.0 L1420.6,928.0 L1422.3,1066.0 L1425.7,1204.0 L1428.5,1274.0 L1431.0,1315.0 L1432.5,1330.0 L1436.5,1343.8" fill="#cbcbcb" stroke="#444" stroke-width="2.4" stroke-linejoin="round" />
<path d="M1247.0,1343.8 L1248.5,1339.5 L1250.0,1343.8 L1273.0,1343.8 L1275.5,1338.5 L1278.0,1343.8 L1284.0,1343.8 L1286.5,1329.5 L1288.0,1329.5 L1290.0,1343.8 L1379.0,1343.8 L1382.0,1337.5 L1385.0,1343.8 M1430.5,1315.0 L1432.0,1332.0 L1433.5,1322.0 L1435.0,1336.0 L1437.0,1327.0 L1438.5,1324.0 L1440.5,1335.0 L1443.0,1331.5 L1445.0,1338.0 L1446.5,1316.0 L1448.5,1314.0 L1450.0,1336.0 L1452.0,1334.0 L1454.5,1343.8 L1466.0,1343.8 L1469.0,1339.0 L1473.5,1329.5 L1476.5,1339.0 L1480.0,1338.0 L1483.0,1343.8 L1490.0,1343.8 L1493.0,1335.5 L1496.0,1343.8 L1502.0,1343.8 L1506.0,1340.0 L1509.0,1343.8 L1547.0,1343.8 L1550.0,1339.0 L1553.0,1343.8 L1565.0,1343.8 L1568.5,1337.5 L1572.0,1336.5 L1575.0,1343.8 L1600.0,1343.8 L1603.5,1336.5 L1607.0,1343.8" fill="none" stroke="#2a2a2a" stroke-width="2.6" stroke-linejoin="round" />
<line x1="1817.3" y1="78.0" x2="1817.3" y2="693.5" stroke="#1c1c1c" stroke-width="3.6" />
<line x1="1816.3" y1="692.5" x2="2364.5" y2="692.5" stroke="#1c1c1c" stroke-width="3.8" />
<line x1="2201.2" y1="79.0" x2="2201.2" y2="692.5" stroke="#484848" stroke-width="2.9" />
<line x1="1983.8" y1="405.0" x2="1983.8" y2="692.5" stroke="#333" stroke-width="2.7" />
<line x1="1985.3" y1="619.0" x2="1985.3" y2="692.5" stroke="#111" stroke-width="4.2" />
<text x="2207.0" y="98.5" font-size="29" fill="#3a3a3a" textLength="80.0" lengthAdjust="spacing" stroke="#3a3a3a" stroke-width="0.4">412.2</text>
<text x="1954.2" y="400.7" font-size="29" fill="#3a3a3a" textLength="79.5" lengthAdjust="spacing" stroke="#3a3a3a" stroke-width="0.4">292.2</text>
<text x="2101.0" y="534.0" font-size="29" fill="#3a3a3a" textLength="79.5" lengthAdjust="spacing" stroke="#3a3a3a" stroke-width="0.4">395.3</text>
<text x="2074.7" y="569.5" font-size="29" fill="#3a3a3a" textLength="79.5" lengthAdjust="spacing" stroke="#3a3a3a" stroke-width="0.4">384.3</text>
<text x="1996.4" y="602.0" font-size="29" fill="#3a3a3a" textLength="79.5" lengthAdjust="spacing" stroke="#3a3a3a" stroke-width="0.4">293.2</text>
<text x="2061.0" y="643.7" font-size="29" fill="#3a3a3a" textLength="78.0" lengthAdjust="spacing" stroke="#3a3a3a" stroke-width="0.4">369.3</text>
<path d="M2146.4,541.6 L2171.0,549.0 L2172.0,692.5" fill="none" stroke="#383838" stroke-width="2.6" stroke-linejoin="round" />
<path d="M2122.3,576.3 L2151.0,584.6 L2151.8,692.5" fill="none" stroke="#383838" stroke-width="2.6" stroke-linejoin="round" />
<path d="M1985.2,618.6 L2035.0,606.5 L2041.0,602.5" fill="none" stroke="#383838" stroke-width="2.6" stroke-linejoin="round" />
<path d="M2104.2,652.2 L2123.8,673.5 L2126.8,692.5" fill="none" stroke="#333" stroke-width="2.4" stroke-linejoin="round" />
<line x1="1876.8" y1="692.5" x2="1876.8" y2="686.5" stroke="#222" stroke-width="1.8" />
<line x1="1884.3" y1="692.5" x2="1884.3" y2="688.5" stroke="#222" stroke-width="1.8" />
<line x1="1888.9" y1="692.5" x2="1888.9" y2="689.5" stroke="#222" stroke-width="1.8" />
<line x1="1897.0" y1="692.5" x2="1897.0" y2="688.5" stroke="#222" stroke-width="2" />
<line x1="1928.9" y1="692.5" x2="1928.9" y2="680.5" stroke="#222" stroke-width="1.8" />
<line x1="1954.2" y1="692.5" x2="1954.2" y2="685.5" stroke="#222" stroke-width="2" />
<line x1="1965.1" y1="692.5" x2="1965.1" y2="688.5" stroke="#222" stroke-width="2" />
<line x1="1970.2" y1="692.5" x2="1970.2" y2="686.5" stroke="#222" stroke-width="2.4" />
<line x1="2010.8" y1="692.5" x2="2010.8" y2="687.5" stroke="#222" stroke-width="2" />
<line x1="2028.9" y1="692.5" x2="2028.9" y2="685.5" stroke="#222" stroke-width="2" />
<line x1="2059.0" y1="692.5" x2="2059.0" y2="688.5" stroke="#222" stroke-width="2" />
<line x1="2068.1" y1="692.5" x2="2068.1" y2="685.5" stroke="#222" stroke-width="3" />
<line x1="2072.0" y1="692.5" x2="2072.0" y2="685.5" stroke="#222" stroke-width="4" />
<line x1="2095.8" y1="692.5" x2="2095.8" y2="681.5" stroke="#222" stroke-width="1.8" />
<line x1="2116.3" y1="692.5" x2="2116.3" y2="688.5" stroke="#222" stroke-width="2" />
<line x1="2126.2" y1="692.5" x2="2126.2" y2="675.5" stroke="#222" stroke-width="3.2" />
<line x1="2139.8" y1="692.5" x2="2139.8" y2="683.5" stroke="#222" stroke-width="3" />
<line x1="2148.8" y1="692.5" x2="2148.8" y2="682.5" stroke="#222" stroke-width="3" />
<line x1="2151.8" y1="692.5" x2="2151.8" y2="681.5" stroke="#222" stroke-width="3.4" />
<line x1="2174.4" y1="692.5" x2="2174.4" y2="679.5" stroke="#222" stroke-width="4.5" />
<line x1="2177.7" y1="692.5" x2="2177.7" y2="681.5" stroke="#222" stroke-width="4.5" />
<line x1="2197.0" y1="692.5" x2="2197.0" y2="678.5" stroke="#222" stroke-width="3" />
<line x1="2199.4" y1="692.5" x2="2199.4" y2="670.5" stroke="#222" stroke-width="4" />
<line x1="1817.3" y1="731.0" x2="1817.3" y2="1356.8" stroke="#1c1c1c" stroke-width="3.6" />
<line x1="1798.3" y1="1343.8" x2="2364.5" y2="1343.8" stroke="#1c1c1c" stroke-width="3.6" />
<line x1="1817.3" y1="1343.8" x2="1817.3" y2="1357.3" stroke="#333" stroke-width="2.6" />
<line x1="1853.8" y1="1343.8" x2="1853.8" y2="1353.3" stroke="#444" stroke-width="2.4" />
<line x1="1890.2" y1="1343.8" x2="1890.2" y2="1353.3" stroke="#444" stroke-width="2.4" />
<line x1="1926.7" y1="1343.8" x2="1926.7" y2="1353.3" stroke="#444" stroke-width="2.4" />
<line x1="1963.1" y1="1343.8" x2="1963.1" y2="1353.3" stroke="#444" stroke-width="2.4" />
<line x1="1999.6" y1="1343.8" x2="1999.6" y2="1357.3" stroke="#333" stroke-width="2.6" />
<line x1="2036.1" y1="1343.8" x2="2036.1" y2="1353.3" stroke="#444" stroke-width="2.4" />
<line x1="2072.5" y1="1343.8" x2="2072.5" y2="1353.3" stroke="#444" stroke-width="2.4" />
<line x1="2109.0" y1="1343.8" x2="2109.0" y2="1353.3" stroke="#444" stroke-width="2.4" />
<line x1="2145.4" y1="1343.8" x2="2145.4" y2="1353.3" stroke="#444" stroke-width="2.4" />
<line x1="2181.9" y1="1343.8" x2="2181.9" y2="1357.3" stroke="#333" stroke-width="2.6" />
<line x1="2218.4" y1="1343.8" x2="2218.4" y2="1353.3" stroke="#444" stroke-width="2.4" />
<line x1="2254.8" y1="1343.8" x2="2254.8" y2="1353.3" stroke="#444" stroke-width="2.4" />
<line x1="2291.3" y1="1343.8" x2="2291.3" y2="1353.3" stroke="#444" stroke-width="2.4" />
<line x1="2327.7" y1="1343.8" x2="2327.7" y2="1353.3" stroke="#444" stroke-width="2.4" />
<line x1="2364.2" y1="1343.8" x2="2364.2" y2="1357.3" stroke="#333" stroke-width="2.6" />
<text x="1820.8" y="1382.6" font-size="28.5" font-weight="bold" text-anchor="middle" fill="#333" letter-spacing="2" stroke="#333" stroke-width="0.6">200</text>
<text x="2003.1" y="1382.6" font-size="28.5" font-weight="bold" text-anchor="middle" fill="#333" letter-spacing="2" stroke="#333" stroke-width="0.6">300</text>
<text x="2185.4" y="1382.6" font-size="28.5" font-weight="bold" text-anchor="middle" fill="#333" letter-spacing="2" stroke="#333" stroke-width="0.6">400</text>
<text x="2367.7" y="1382.6" font-size="28.5" font-weight="bold" text-anchor="middle" fill="#333" letter-spacing="2" stroke="#333" stroke-width="0.6">500</text>
<text x="2107" y="1428" font-size="37" font-weight="bold" font-style="italic" text-anchor="middle" fill="#333" stroke="#333" stroke-width="0.6" textLength="73" lengthAdjust="spacingAndGlyphs">m/z</text>
<line x1="2211.6" y1="731.0" x2="2211.6" y2="1343.8" stroke="#484848" stroke-width="2.9" />
<line x1="1984.5" y1="1079.5" x2="1984.5" y2="1343.8" stroke="#333" stroke-width="2.7" />
<line x1="1986.0" y1="1291.0" x2="1986.0" y2="1343.8" stroke="#111" stroke-width="4.2" />
<line x1="2181.3" y1="1195.0" x2="2181.3" y2="1343.8" stroke="#333" stroke-width="2.7" />
<line x1="2161.8" y1="1246.0" x2="2161.8" y2="1343.8" stroke="#333" stroke-width="2.7" />
<text x="2217.5" y="752.3" font-size="29" fill="#3a3a3a" textLength="80.0" lengthAdjust="spacing" stroke="#3a3a3a" stroke-width="0.4">417.2</text>
<text x="1953.5" y="1076.0" font-size="29" fill="#3a3a3a" textLength="80.0" lengthAdjust="spacing" stroke="#3a3a3a" stroke-width="0.4">292.2</text>
<text x="2122.5" y="1192.0" font-size="29" fill="#3a3a3a" textLength="81.0" lengthAdjust="spacing" stroke="#3a3a3a" stroke-width="0.4">400.3</text>
<text x="2093.0" y="1240.5" font-size="29" fill="#3a3a3a" textLength="80.0" lengthAdjust="spacing" stroke="#3a3a3a" stroke-width="0.4">389.2</text>
<text x="2000.5" y="1270.0" font-size="29" fill="#3a3a3a" textLength="80.0" lengthAdjust="spacing" stroke="#3a3a3a" stroke-width="0.4">293.2</text>
<text x="2072.5" y="1302.0" font-size="29" fill="#3a3a3a" textLength="80.0" lengthAdjust="spacing" stroke="#3a3a3a" stroke-width="0.4">374.3</text>
<path d="M2166.5,1195.5 L2181.3,1197.5 L2181.3,1300.0" fill="none" stroke="#383838" stroke-width="2.6" stroke-linejoin="round" />
<path d="M2131.5,1241.5 L2161.0,1249.5 L2161.8,1300.0" fill="none" stroke="#383838" stroke-width="2.6" stroke-linejoin="round" />
<path d="M1986.0,1290.0 L2041.5,1275.0" fill="none" stroke="#333" stroke-width="2.4" stroke-linejoin="round" />
<path d="M2110.5,1304.0 L2134.6,1310.5 L2135.2,1343.8" fill="none" stroke="#333" stroke-width="2.4" stroke-linejoin="round" />
<line x1="1930.0" y1="1343.8" x2="1930.0" y2="1333.8" stroke="#222" stroke-width="3.2" />
<line x1="1959.3" y1="1343.8" x2="1959.3" y2="1330.8" stroke="#222" stroke-width="2.4" />
<line x1="1961.9" y1="1343.8" x2="1961.9" y2="1334.8" stroke="#222" stroke-width="2" />
<line x1="1966.9" y1="1343.8" x2="1966.9" y2="1336.8" stroke="#222" stroke-width="2" />
<line x1="1972.6" y1="1343.8" x2="1972.6" y2="1338.8" stroke="#222" stroke-width="2" />
<line x1="2089.4" y1="1343.8" x2="2089.4" y2="1336.8" stroke="#222" stroke-width="2" />
<line x1="2105.2" y1="1343.8" x2="2105.2" y2="1333.8" stroke="#222" stroke-width="3.6" />
<line x1="2125.8" y1="1343.8" x2="2125.8" y2="1334.8" stroke="#222" stroke-width="2" />
<line x1="2147.9" y1="1343.8" x2="2147.9" y2="1337.8" stroke="#222" stroke-width="2" />
<line x1="2159.5" y1="1343.8" x2="2159.5" y2="1334.8" stroke="#222" stroke-width="3.4" />
<line x1="2182.6" y1="1343.8" x2="2182.6" y2="1330.8" stroke="#222" stroke-width="3" />
<line x1="2188.0" y1="1343.8" x2="2188.0" y2="1333.8" stroke="#222" stroke-width="2" />
<line x1="2206.3" y1="1343.8" x2="2206.3" y2="1337.8" stroke="#222" stroke-width="2.2" />
<line x1="2196.6" y1="983.0" x2="2196.6" y2="1006.0" stroke="#b0b0b0" stroke-width="2" />
<line x1="382.0" y1="1478.6" x2="382.0" y2="2133.0" stroke="#1c1c1c" stroke-width="4.8" />
<line x1="364.6" y1="2131.0" x2="1359.8" y2="2131.0" stroke="#1c1c1c" stroke-width="6.6" />
<line x1="371.0" y1="2098.5" x2="382.0" y2="2098.5" stroke="#1c1c1c" stroke-width="4.3" />
<line x1="371.0" y1="2066.0" x2="382.0" y2="2066.0" stroke="#1c1c1c" stroke-width="4.3" />
<line x1="371.0" y1="2033.5" x2="382.0" y2="2033.5" stroke="#1c1c1c" stroke-width="4.3" />
<line x1="371.0" y1="2001.0" x2="382.0" y2="2001.0" stroke="#1c1c1c" stroke-width="4.3" />
<line x1="364.6" y1="1968.5" x2="382.0" y2="1968.5" stroke="#1c1c1c" stroke-width="4.8" />
<line x1="371.0" y1="1936.0" x2="382.0" y2="1936.0" stroke="#1c1c1c" stroke-width="4.3" />
<line x1="371.0" y1="1903.5" x2="382.0" y2="1903.5" stroke="#1c1c1c" stroke-width="4.3" />
<line x1="371.0" y1="1871.0" x2="382.0" y2="1871.0" stroke="#1c1c1c" stroke-width="4.3" />
<line x1="371.0" y1="1838.5" x2="382.0" y2="1838.5" stroke="#1c1c1c" stroke-width="4.3" />
<line x1="364.6" y1="1806.0" x2="382.0" y2="1806.0" stroke="#1c1c1c" stroke-width="4.8" />
<line x1="371.0" y1="1773.5" x2="382.0" y2="1773.5" stroke="#1c1c1c" stroke-width="4.3" />
<line x1="371.0" y1="1741.0" x2="382.0" y2="1741.0" stroke="#1c1c1c" stroke-width="4.3" />
<line x1="371.0" y1="1708.5" x2="382.0" y2="1708.5" stroke="#1c1c1c" stroke-width="4.3" />
<line x1="371.0" y1="1676.0" x2="382.0" y2="1676.0" stroke="#1c1c1c" stroke-width="4.3" />
<line x1="364.6" y1="1643.5" x2="382.0" y2="1643.5" stroke="#1c1c1c" stroke-width="4.8" />
<line x1="371.0" y1="1611.0" x2="382.0" y2="1611.0" stroke="#1c1c1c" stroke-width="4.3" />
<line x1="371.0" y1="1578.5" x2="382.0" y2="1578.5" stroke="#1c1c1c" stroke-width="4.3" />
<line x1="371.0" y1="1546.0" x2="382.0" y2="1546.0" stroke="#1c1c1c" stroke-width="4.3" />
<line x1="371.0" y1="1513.5" x2="382.0" y2="1513.5" stroke="#1c1c1c" stroke-width="4.3" />
<line x1="364.6" y1="1481.0" x2="382.0" y2="1481.0" stroke="#1c1c1c" stroke-width="4.8" />
<text x="355.5" y="2147.0" font-size="46" text-anchor="end" fill="#1a1a1a" stroke="#1a1a1a" stroke-width="1.3">0</text>
<text x="355.5" y="1984.5" font-size="46" text-anchor="end" fill="#1a1a1a" stroke="#1a1a1a" stroke-width="1.3">2</text>
<text x="355.5" y="1822.0" font-size="46" text-anchor="end" fill="#1a1a1a" stroke="#1a1a1a" stroke-width="1.3">4</text>
<text x="355.5" y="1659.5" font-size="46" text-anchor="end" fill="#1a1a1a" stroke="#1a1a1a" stroke-width="1.3">6</text>
<text x="355.5" y="1497.0" font-size="46" text-anchor="end" fill="#1a1a1a" stroke="#1a1a1a" stroke-width="1.3">8</text>
<rect x="400.2" y="1912.5" width="20.2" height="218.5" fill="#1c1c1c"/>
<rect x="431.2" y="1989.5" width="23.4" height="141.5" fill="#fff" stroke="#484848" stroke-width="3"/>
<rect x="489.1" y="1817.0" width="20.2" height="314.0" fill="#1c1c1c"/>
<rect x="520.1" y="1828.3" width="23.4" height="302.7" fill="#fff" stroke="#484848" stroke-width="3"/>
<rect x="578.0" y="1955.5" width="20.2" height="175.5" fill="#1c1c1c"/>
<rect x="609.0" y="1850.9" width="23.4" height="280.1" fill="#fff" stroke="#484848" stroke-width="3"/>
<rect x="666.9" y="2033.2" width="20.2" height="97.8" fill="#1c1c1c"/>
<rect x="697.9" y="2050.8" width="23.4" height="80.2" fill="#fff" stroke="#484848" stroke-width="3"/>
<rect x="755.8" y="1845.0" width="20.2" height="286.0" fill="#1c1c1c"/>
<rect x="786.8" y="1937.5" width="23.4" height="193.5" fill="#fff" stroke="#484848" stroke-width="3"/>
<rect x="844.7" y="1566.3" width="20.2" height="564.7" fill="#1c1c1c"/>
<rect x="875.7" y="1694.1" width="23.4" height="436.9" fill="#fff" stroke="#484848" stroke-width="3"/>
<rect x="933.6" y="2049.2" width="20.2" height="81.8" fill="#1c1c1c"/>
<rect x="964.6" y="2006.6" width="23.4" height="124.4" fill="#fff" stroke="#484848" stroke-width="3"/>
<rect x="1022.5" y="2094.3" width="20.2" height="36.7" fill="#1c1c1c"/>
<rect x="1053.5" y="2078.0" width="23.4" height="53.0" fill="#fff" stroke="#484848" stroke-width="3"/>
<rect x="1111.4" y="2122.7" width="20.2" height="8.3" fill="#1c1c1c"/>
<rect x="1142.4" y="2093.8" width="23.4" height="37.2" fill="#fff" stroke="#484848" stroke-width="3"/>
<rect x="1200.3" y="2100.0" width="20.2" height="31.0" fill="#1c1c1c"/>
<rect x="1231.3" y="2050.9" width="23.4" height="80.1" fill="#fff" stroke="#484848" stroke-width="3"/>
<rect x="1289.2" y="2112.8" width="20.2" height="18.2" fill="#1c1c1c"/>
<rect x="1320.2" y="2112.7" width="23.4" height="18.3" fill="#fff" stroke="#484848" stroke-width="3"/>
<line x1="364.6" y1="2131.0" x2="1359.8" y2="2131.0" stroke="#1c1c1c" stroke-width="6.6" />
<line x1="425.7" y1="2131.0" x2="425.7" y2="2150.5" stroke="#1c1c1c" stroke-width="4.8" />
<text x="434.7" y="2188.5" font-size="45" text-anchor="end" fill="#1a1a1a" transform="rotate(-45 434.7 2188.5)" stroke="#1a1a1a" stroke-width="1.5">1</text>
<line x1="514.6" y1="2131.0" x2="514.6" y2="2150.5" stroke="#1c1c1c" stroke-width="4.8" />
<text x="523.6" y="2188.5" font-size="45" text-anchor="end" fill="#1a1a1a" transform="rotate(-45 523.6 2188.5)" stroke="#1a1a1a" stroke-width="1.5">2</text>
<line x1="603.5" y1="2131.0" x2="603.5" y2="2150.5" stroke="#1c1c1c" stroke-width="4.8" />
<text x="612.5" y="2188.5" font-size="45" text-anchor="end" fill="#1a1a1a" transform="rotate(-45 612.5 2188.5)" stroke="#1a1a1a" stroke-width="1.5">3</text>
<line x1="692.4" y1="2131.0" x2="692.4" y2="2150.5" stroke="#1c1c1c" stroke-width="4.8" />
<text x="701.4" y="2188.5" font-size="45" text-anchor="end" fill="#1a1a1a" transform="rotate(-45 701.4 2188.5)" stroke="#1a1a1a" stroke-width="1.5">4</text>
<line x1="781.3" y1="2131.0" x2="781.3" y2="2150.5" stroke="#1c1c1c" stroke-width="4.8" />
<text x="790.3" y="2188.5" font-size="45" text-anchor="end" fill="#1a1a1a" transform="rotate(-45 790.3 2188.5)" stroke="#1a1a1a" stroke-width="1.5">5</text>
<line x1="870.2" y1="2131.0" x2="870.2" y2="2150.5" stroke="#1c1c1c" stroke-width="4.8" />
<text x="879.2" y="2188.5" font-size="45" text-anchor="end" fill="#1a1a1a" transform="rotate(-45 879.2 2188.5)" stroke="#1a1a1a" stroke-width="1.5">6</text>
<line x1="959.1" y1="2131.0" x2="959.1" y2="2150.5" stroke="#1c1c1c" stroke-width="4.8" />
<text x="968.1" y="2188.5" font-size="45" text-anchor="end" fill="#1a1a1a" transform="rotate(-45 968.1 2188.5)" stroke="#1a1a1a" stroke-width="1.5">7</text>
<line x1="1048.0" y1="2131.0" x2="1048.0" y2="2150.5" stroke="#1c1c1c" stroke-width="4.8" />
<text x="1057.0" y="2188.5" font-size="45" text-anchor="end" fill="#1a1a1a" transform="rotate(-45 1057.0 2188.5)" stroke="#1a1a1a" stroke-width="1.5">8</text>
<line x1="1136.9" y1="2131.0" x2="1136.9" y2="2150.5" stroke="#1c1c1c" stroke-width="4.8" />
<text x="1145.9" y="2188.5" font-size="45" text-anchor="end" fill="#1a1a1a" transform="rotate(-45 1145.9 2188.5)" stroke="#1a1a1a" stroke-width="1.5">9</text>
<line x1="1225.8" y1="2131.0" x2="1225.8" y2="2150.5" stroke="#1c1c1c" stroke-width="4.8" />
<text x="1234.8" y="2188.5" font-size="45" text-anchor="end" fill="#1a1a1a" transform="rotate(-45 1234.8 2188.5)" stroke="#1a1a1a" stroke-width="1.5">10</text>
<line x1="1314.7" y1="2131.0" x2="1314.7" y2="2150.5" stroke="#1c1c1c" stroke-width="4.8" />
<text x="1323.7" y="2188.5" font-size="45" text-anchor="end" fill="#1a1a1a" transform="rotate(-45 1323.7 2188.5)" stroke="#1a1a1a" stroke-width="1.5">11</text>
<line x1="384.5" y1="2105.4" x2="1391.5" y2="2105.4" stroke="#222" stroke-width="2.3" stroke-dasharray="5 3"/>
<text x="1426.0" y="2123.5" font-size="50.5" fill="#111" textLength="111.0" lengthAdjust="spacingAndGlyphs" stroke="#111" stroke-width="1.8">LOQ</text>
<rect x="1004" y="1539.3" width="70" height="27.5" fill="#1c1c1c"/>
<rect x="1004.3" y="1675.3" width="69.4" height="28.5" fill="#fff" stroke="#484848" stroke-width="3"/>
<text x="1114.5" y="1537.8" font-size="46" font-weight="bold" fill="#222" textLength="345.0" lengthAdjust="spacingAndGlyphs">level of dA-AL-I</text>
<text x="1114.5" y="1597.8" font-size="46" font-weight="bold" fill="#222" textLength="307.0" lengthAdjust="spacingAndGlyphs">Fresh Frozen</text>
<text x="1114.5" y="1674.6" font-size="46" font-weight="bold" fill="#222" textLength="345.0" lengthAdjust="spacingAndGlyphs">level of dA-AL-I</text>
<text x="1128.5" y="1735.0" font-size="46" font-weight="bold" fill="#222" textLength="175.0" lengthAdjust="spacingAndGlyphs">in FFPE</text>
<text x="206.5" y="1984.5" font-size="57" font-weight="bold" fill="#1e1e1e" transform="rotate(-90 206.5 1984.5)" textLength="386" lengthAdjust="spacingAndGlyphs">dA-AL-I adduct</text>
<text x="281.3" y="2043.6" font-size="55" font-weight="bold" fill="#1e1e1e" transform="rotate(-90 281.3 2043.6)" textLength="503" lengthAdjust="spacingAndGlyphs">Per 10<tspan font-size="36" dy="-27">8</tspan><tspan dy="27"> nucleotides</tspan></text>
<line x1="1830.5" y1="1575.8" x2="1861.7" y2="1552.4" stroke="#1c1c1c" stroke-width="4.3" stroke-linecap="round"/>
<line x1="1861.7" y1="1552.4" x2="1893.8" y2="1575.8" stroke="#1c1c1c" stroke-width="4.3" stroke-linecap="round"/>
<line x1="1819.8" y1="1611.8" x2="1829.6" y2="1646.9" stroke="#1c1c1c" stroke-width="4.3" stroke-linecap="round"/>
<line x1="1904.6" y1="1611.8" x2="1893.8" y2="1646.9" stroke="#1c1c1c" stroke-width="4.3" stroke-linecap="round"/>
<text x="1812.0" y="1599.5" font-size="42" text-anchor="middle" fill="#1c1c1c" stroke="#1c1c1c" stroke-width="0.5">O</text>
<text x="1912.4" y="1599.5" font-size="42" text-anchor="middle" fill="#1c1c1c" stroke="#1c1c1c" stroke-width="0.5">O</text>
<line x1="1829.6" y1="1646.9" x2="1893.8" y2="1646.9" stroke="#1c1c1c" stroke-width="4.3" stroke-linecap="round"/>
<line x1="1893.8" y1="1646.9" x2="1922.1" y2="1700.5" stroke="#1c1c1c" stroke-width="4.3" stroke-linecap="round"/>
<line x1="1922.1" y1="1700.5" x2="1893.8" y2="1753.0" stroke="#1c1c1c" stroke-width="4.3" stroke-linecap="round"/>
<line x1="1893.8" y1="1753.0" x2="1829.6" y2="1753.0" stroke="#1c1c1c" stroke-width="4.3" stroke-linecap="round"/>
<line x1="1829.6" y1="1753.0" x2="1800.3" y2="1700.5" stroke="#1c1c1c" stroke-width="4.3" stroke-linecap="round"/>
<line x1="1800.3" y1="1700.5" x2="1829.6" y2="1646.9" stroke="#1c1c1c" stroke-width="4.3" stroke-linecap="round"/>
<line x1="1837.3" y1="1658.6" x2="1887.0" y2="1658.6" stroke="#1c1c1c" stroke-width="4.3" stroke-linecap="round"/>
<line x1="1812.0" y1="1701.4" x2="1836.4" y2="1743.3" stroke="#1c1c1c" stroke-width="4.3" stroke-linecap="round"/>
<line x1="1910.4" y1="1701.4" x2="1886.0" y2="1743.3" stroke="#1c1c1c" stroke-width="4.3" stroke-linecap="round"/>
<line x1="1922.1" y1="1700.5" x2="1985.4" y2="1700.5" stroke="#1c1c1c" stroke-width="4.3" stroke-linecap="round"/>
<line x1="1985.4" y1="1700.5" x2="2014.6" y2="1753.0" stroke="#1c1c1c" stroke-width="4.3" stroke-linecap="round"/>
<line x1="2014.6" y1="1753.0" x2="1985.4" y2="1805.7" stroke="#1c1c1c" stroke-width="4.3" stroke-linecap="round"/>
<line x1="1985.4" y1="1805.7" x2="1922.1" y2="1805.7" stroke="#1c1c1c" stroke-width="4.3" stroke-linecap="round"/>
<line x1="1922.1" y1="1805.7" x2="1893.8" y2="1753.0" stroke="#1c1c1c" stroke-width="4.3" stroke-linecap="round"/>
<line x1="1929.9" y1="1795.0" x2="1978.6" y2="1795.0" stroke="#1c1c1c" stroke-width="4.3" stroke-linecap="round"/>
<line x1="1985.4" y1="1700.5" x2="2014.5" y2="1646.9" stroke="#1c1c1c" stroke-width="4.3" stroke-linecap="round"/>
<line x1="2014.5" y1="1646.9" x2="2076.9" y2="1646.9" stroke="#1c1c1c" stroke-width="4.3" stroke-linecap="round"/>
<line x1="2076.9" y1="1646.9" x2="2107.1" y2="1700.5" stroke="#1c1c1c" stroke-width="4.3" stroke-linecap="round"/>
<line x1="2107.1" y1="1700.5" x2="2077.9" y2="1753.0" stroke="#1c1c1c" stroke-width="4.3" stroke-linecap="round"/>
<line x1="2077.9" y1="1753.0" x2="2014.6" y2="1753.0" stroke="#1c1c1c" stroke-width="4.3" stroke-linecap="round"/>
<line x1="1997.0" y1="1701.4" x2="2022.3" y2="1657.6" stroke="#1c1c1c" stroke-width="4.3" stroke-linecap="round"/>
<line x1="2069.1" y1="1657.6" x2="2095.4" y2="1701.4" stroke="#1c1c1c" stroke-width="4.3" stroke-linecap="round"/>
<line x1="2021.4" y1="1742.3" x2="2071.0" y2="1742.3" stroke="#1c1c1c" stroke-width="4.3" stroke-linecap="round"/>
<line x1="1829.6" y1="1753.0" x2="1806.5" y2="1802.7" stroke="#1c1c1c" stroke-width="4.3" stroke-linecap="round"/>
<line x1="1806.5" y1="1803.5" x2="1872.8" y2="1846.2" stroke="#1c1c1c" stroke-width="4.3" stroke-linecap="round"/>
<line x1="1922.1" y1="1805.7" x2="1910.9" y2="1827.7" stroke="#1c1c1c" stroke-width="4.3" stroke-linecap="round"/>
<line x1="1806.2" y1="1799.6" x2="1758.4" y2="1811.5" stroke="#1c1c1c" stroke-width="4.3" stroke-linecap="round"/>
<line x1="1809.1" y1="1810.5" x2="1761.4" y2="1822.2" stroke="#1c1c1c" stroke-width="4.3" stroke-linecap="round"/>
<text x="1741.0" y="1832.5" font-size="42" text-anchor="middle" fill="#1c1c1c" stroke="#1c1c1c" stroke-width="0.5">O</text>
<text x="1878.5" y="1868.3" font-size="39.5" fill="#1c1c1c" stroke="#1c1c1c" stroke-width="0.5">N</text>
<text x="1878.5" y="1902.8" font-size="39.5" fill="#1c1c1c" stroke="#1c1c1c" stroke-width="0.5">H</text>
<line x1="2077.9" y1="1753.0" x2="2097.3" y2="1787.2" stroke="#1c1c1c" stroke-width="4.3" stroke-linecap="round"/>
<text x="2107.3" y="1817.0" font-size="42" text-anchor="middle" fill="#1c1c1c" stroke="#1c1c1c" stroke-width="0.5">O</text>
<line x1="2127.5" y1="1805.7" x2="2133.0" y2="1805.7" stroke="#1c1c1c" stroke-width="3.6" stroke-linecap="round"/>
<line x1="2145.5" y1="1805.7" x2="2152.5" y2="1805.7" stroke="#1c1c1c" stroke-width="3.6" stroke-linecap="round"/>
<text x="2155" y="1816.5" font-size="40" fill="#1c1c1c" stroke="#1c1c1c" stroke-width="0.5" letter-spacing="0.8">CH<tspan font-size="29" dy="10.5" dx="0.5">3</tspan></text>
<line x1="1985.4" y1="1805.7" x2="2005.2" y2="1840.0" stroke="#1c1c1c" stroke-width="4.3" stroke-linecap="round"/>
<text x="2005.5" y="1869.5" font-size="40" fill="#1c1c1c" stroke="#1c1c1c" stroke-width="0.5">NH</text>
<line x1="2020.6" y1="1884.3" x2="2020.6" y2="1922.8" stroke="#1c1c1c" stroke-width="4.3" stroke-linecap="round"/>
<line x1="2020.6" y1="1923.5" x2="1988.2" y2="1939.7" stroke="#1c1c1c" stroke-width="4.3" stroke-linecap="round"/>
<line x1="2022.9" y1="1936.2" x2="1992.9" y2="1952.4" stroke="#1c1c1c" stroke-width="4.3" stroke-linecap="round"/>
<line x1="2020.6" y1="1923.5" x2="2073.7" y2="1953.6" stroke="#1c1c1c" stroke-width="4.3" stroke-linecap="round"/>
<line x1="2073.7" y1="1953.6" x2="2073.7" y2="2014.8" stroke="#1c1c1c" stroke-width="4.3" stroke-linecap="round"/>
<line x1="2063.3" y1="1961.6" x2="2063.3" y2="2007.8" stroke="#1c1c1c" stroke-width="4.3" stroke-linecap="round"/>
<line x1="2073.7" y1="2014.8" x2="2041.4" y2="2034.4" stroke="#1c1c1c" stroke-width="4.3" stroke-linecap="round"/>
<line x1="2000.9" y1="2033.2" x2="1967.5" y2="2014.8" stroke="#1c1c1c" stroke-width="4.3" stroke-linecap="round"/>
<line x1="2005.6" y1="2022.8" x2="1975.5" y2="2007.8" stroke="#1c1c1c" stroke-width="4.3" stroke-linecap="round"/>
<line x1="1967.5" y1="2014.8" x2="1967.5" y2="1976.7" stroke="#1c1c1c" stroke-width="4.3" stroke-linecap="round"/>
<line x1="2073.7" y1="1953.6" x2="2113.0" y2="1940.9" stroke="#1c1c1c" stroke-width="4.3" stroke-linecap="round"/>
<line x1="2147.6" y1="1957.0" x2="2169.5" y2="1984.7" stroke="#1c1c1c" stroke-width="4.3" stroke-linecap="round"/>
<line x1="2138.3" y1="1964.0" x2="2158.0" y2="1987.0" stroke="#1c1c1c" stroke-width="4.3" stroke-linecap="round"/>
<line x1="2169.5" y1="1984.7" x2="2146.4" y2="2014.8" stroke="#1c1c1c" stroke-width="4.3" stroke-linecap="round"/>
<line x1="2073.7" y1="2014.8" x2="2113.0" y2="2027.5" stroke="#1c1c1c" stroke-width="4.3" stroke-linecap="round"/>
<text x="1953.3" y="1961.6" font-size="39.5" fill="#1c1c1c" stroke="#1c1c1c" stroke-width="0.5">N</text>
<text x="2006.5" y="2054.0" font-size="39.5" fill="#1c1c1c" stroke="#1c1c1c" stroke-width="0.5">N</text>
<text x="2119.5" y="1944.3" font-size="39.5" fill="#1c1c1c" stroke="#1c1c1c" stroke-width="0.5">N</text>
<text x="2119.5" y="2041.3" font-size="39.5" fill="#1c1c1c" stroke="#1c1c1c" stroke-width="0.5">N</text>
<text x="2119.5" y="2078.3" font-size="39.5" fill="#1c1c1c" stroke="#1c1c1c" stroke-width="0.5">H</text>
<text x="2024.5" y="1857.0" font-size="56" text-anchor="middle" fill="#e83a3a" stroke="#e83a3a" stroke-width="0.8">*</text>
<text x="1967.5" y="1944.5" font-size="56" text-anchor="middle" fill="#e83a3a" stroke="#e83a3a" stroke-width="0.8">*</text>
<text x="2155.7" y="1963.0" font-size="56" text-anchor="middle" fill="#e83a3a" stroke="#e83a3a" stroke-width="0.8">*</text>
<text x="2130.3" y="2023.0" font-size="56" text-anchor="middle" fill="#e83a3a" stroke="#e83a3a" stroke-width="0.8">*</text>
<text x="2021.7" y="2034.5" font-size="56" text-anchor="middle" fill="#e83a3a" stroke="#e83a3a" stroke-width="0.8">*</text>
<polyline points="2180,1549.5 2232.7,1549.5 2232.7,1618.6" fill="none" stroke="#444" stroke-width="3.4"/>
<text x="2240.5" y="1587.5" font-size="40.5" fill="#1c1c1c" textLength="53.0" lengthAdjust="spacingAndGlyphs" stroke="#1c1c1c" stroke-width="1.1">+H</text>
<text x="1716.6" y="1680.0" font-size="49.5" fill="#4a5db5" textLength="82.0" lengthAdjust="spacingAndGlyphs">384</text>
<text x="2095.4" y="1635.2" font-size="50" fill="#4a5db5" textLength="84.0" lengthAdjust="spacingAndGlyphs">395</text>
<text x="2055.2" y="1899.0" font-size="50" fill="#4a5db5" textLength="84.5" lengthAdjust="spacingAndGlyphs">412</text>
<text x="1767.5" y="1943.2" font-size="50" fill="#4a5db5" textLength="83.5" lengthAdjust="spacingAndGlyphs">292</text>
<text x="1765.4" y="1988.2" font-size="50" fill="#4a5db5" textLength="188.0" lengthAdjust="spacingAndGlyphs">293(+H)</text>
<path d="M1931.8,1846.6 L1774,1744.3" fill="none" stroke="#4a5db5" stroke-width="3.7" stroke-dasharray="9.5 4.5"/>
<path d="M1776,1745.5 L1767,1739.5 Q1765.8,1738 1765.8,1734 L1765.8,1712" fill="none" stroke="#3a58b0" stroke-width="3.6" />
<polygon points="1765.8,1691.5 1775.3,1718.5 1756.3,1718.5" fill="#3a58b0"/>
<path d="M2062.3,1789.1 L2141.2,1717" fill="none" stroke="#4a5db5" stroke-width="3.7" stroke-dasharray="9.5 4.5"/>
<path d="M2130,1727 L2141.2,1717 L2133.0,1668" fill="none" stroke="#3a58b0" stroke-width="3.6" />
<polygon points="2127.3,1643.5 2141.9,1668.1 2123.3,1671.8" fill="#3a58b0"/>
<path d="M2146,1771.6 L2135.0,1838" fill="none" stroke="#4a5db5" stroke-width="3.7" stroke-dasharray="9.5 4.5"/>
<path d="M2136.5,1832 L2135.3,1842.5 L2105,1851.5" fill="none" stroke="#3a58b0" stroke-width="4" />
<polygon points="2082.0,1858.5 2109.2,1844.4 2112.6,1856.4" fill="#3a58b0"/>
<path d="M2030.5,1782 L1945,1906.5" fill="none" stroke="#4a5db5" stroke-width="3.7" stroke-dasharray="9.5 4.5"/>
<path d="M1946.5,1904 L1942,1911 L1902,1931" fill="none" stroke="#3a58b0" stroke-width="4" />
<polygon points="1880.5,1942.5 1903.5,1923.7 1909.3,1935.3" fill="#3a58b0"/>
<text x="1813.5" y="2109.4" font-size="56.5" font-weight="bold" fill="#111" textLength="185.0" lengthAdjust="spacingAndGlyphs" stroke="#111" stroke-width="1.6">A-AL-I</text>
<g stroke="#1a1a1a" stroke-width="0.75">
<text x="239.5" y="92.5" font-size="44.5" fill="#161616">t<tspan font-size="28.5" dy="8.9" fill="#444">R</tspan><tspan dy="-8.9">: 6.1</tspan></text>
<text x="238.0" y="147.0" font-size="44.5" fill="#161616" letter-spacing="1">A: 116</text>
<text x="880.0" y="140.0" font-size="44.5" fill="#161616">t<tspan font-size="28.5" dy="8.9" fill="#444">R</tspan><tspan dy="-8.9">: 6.1</tspan></text>
<text x="876.5" y="193.5" font-size="44.5" fill="#161616" letter-spacing="1">A: 618</text>
<text x="1285.0" y="137.0" font-size="44.5" fill="#161616">t<tspan font-size="28.5" dy="8.9" fill="#444">R</tspan><tspan dy="-8.9">: 6.1</tspan></text>
<text x="1249.0" y="192.0" font-size="44.5" fill="#161616" letter-spacing="1">A: 7100</text>
<text x="321.0" y="926.0" font-size="44.5" fill="#161616">t<tspan font-size="28.5" dy="8.9" fill="#444">R</tspan><tspan dy="-8.9">: 6.1</tspan></text>
<text x="319.5" y="978.5" font-size="44.5" fill="#161616" letter-spacing="1">A: 7399</text>
<text x="890.0" y="925.0" font-size="44.5" fill="#161616">t<tspan font-size="28.5" dy="8.9" fill="#444">R</tspan><tspan dy="-8.9">: 6.1</tspan></text>
<text x="887.5" y="978.0" font-size="44.5" fill="#161616" letter-spacing="1">A: 8145</text>
<text x="1284.0" y="924.0" font-size="44.5" fill="#161616">t<tspan font-size="28.5" dy="8.9" fill="#444">R</tspan><tspan dy="-8.9">: 6.1</tspan></text>
<text x="1249.0" y="977.5" font-size="44.5" fill="#161616" letter-spacing="1">A: 6065</text>
<text x="1435.5" y="139.5" font-size="44.5" fill="#161616">dA-AL-I</text>
<text x="1436.5" y="193.5" font-size="44.5" fill="#161616">MS<tspan font-size="28" dy="-17" fill="#555">3</tspan><tspan dy="17">,</tspan></text>
<text x="1436.0" y="249.0" font-size="44.5" fill="#161616" textLength="358.5" lengthAdjust="spacing"><tspan font-style="italic">m/z</tspan> 292, 293, 412</text>
<text x="1436.0" y="766.0" font-size="44.5" fill="#161616">[<tspan font-size="28" dy="-16" fill="#444">15</tspan><tspan dy="16">N</tspan><tspan font-size="28" dy="8" fill="#666">5</tspan><tspan dy="-8">]-dA-AL-I</tspan></text>
<text x="1436.5" y="820.0" font-size="44.5" fill="#161616">MS<tspan font-size="28" dy="-17" fill="#555">3</tspan><tspan dy="17">,</tspan></text>
<text x="1436.0" y="875.0" font-size="44.5" fill="#161616" textLength="358.5" lengthAdjust="spacing"><tspan font-style="italic">m/z</tspan> 292, 293, 417</text>
<text x="1836.5" y="155.0" font-size="44.5" fill="#161616" textLength="146.5" lengthAdjust="spacingAndGlyphs">dA-AL-I</text>
<text x="1836.0" y="209.0" font-size="44.5" fill="#161616" textLength="199" lengthAdjust="spacing"><tspan font-style="italic">m/z</tspan> = 427</text>
<text x="1844.5" y="787.0" font-size="44.5" fill="#161616">[<tspan font-size="28" dy="-16" fill="#444">15</tspan><tspan dy="16">N</tspan><tspan font-size="28" dy="8" fill="#666">5</tspan><tspan dy="-8">]-dA-AL-I</tspan></text>
<text x="1846.0" y="841.5" font-size="44.5" fill="#161616" textLength="199" lengthAdjust="spacing"><tspan font-style="italic">m/z</tspan> = 432</text>
</g>
</svg>
</body></html>
